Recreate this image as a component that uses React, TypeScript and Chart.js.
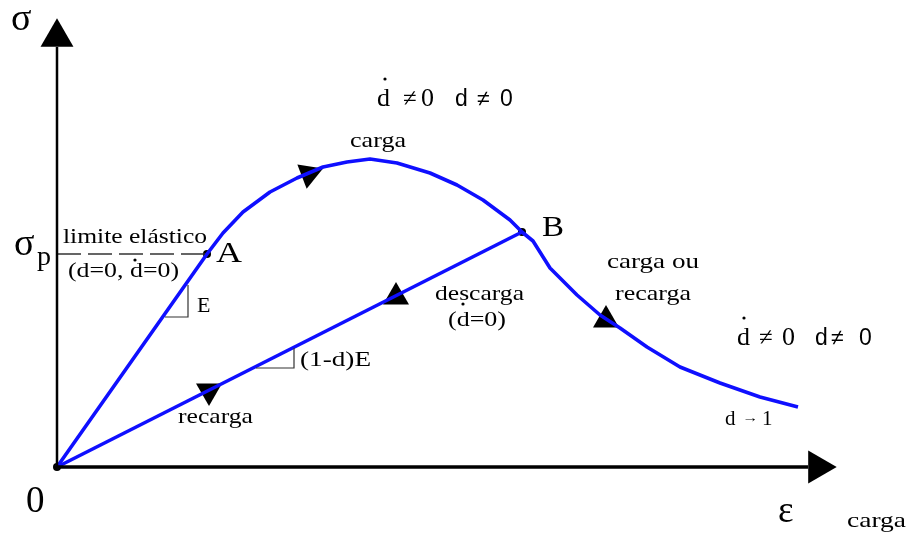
import { useEffect, useRef } from "react";
import { Chart, registerables } from "chart.js";

Chart.register(...registerables);

// Strain ε and stress σ, in plot units (origin at 0,0)
const elasticEps = [0, 1.5];
const elasticSig = [0, 2.13];
const hardeningEps = [1.5, 1.66, 1.86, 2.13, 2.4, 2.66, 2.9, 3.13, 3.4, 3.73, 4.0, 4.26, 4.53, 4.65];
const hardeningSig = [2.13, 2.34, 2.55, 2.75, 2.89, 3.0, 3.05, 3.08, 3.04, 2.94, 2.82, 2.67, 2.47, 2.35];
const softeningEps = [4.65, 4.76, 4.93, 5.2, 5.43, 5.63, 5.9, 6.23, 6.63, 7.03, 7.41];
const softeningSig = [2.35, 2.26, 1.99, 1.72, 1.52, 1.39, 1.2, 1.0, 0.84, 0.7, 0.6];
const unloadEps = [4.65, 0];
const unloadSig = [2.35, 0];

// Named points: 0, A (elastic limit σp), B (start of unloading)
const pointEps = [0, 1.5, 4.65];
const pointSig = [0, 2.13, 2.35];
const sigmaP = 2.13;

// Axis extents and arrow heads
const epsAxisEnd = 7.51;
const sigAxisEnd = 4.2;
const arrowEps = [0, 7.607];
const arrowSig = [4.297, 0];
const arrowRot = [0, 90];

// Direction markers along the paths (carga, descarga, recarga, carga ou recarga)
const markerEps = [2.52, 3.39, 1.52, 5.49];
const markerSig = [2.93, 1.7, 0.76, 1.47];
const markerRot = [69, 0, 180, 0];

// Slope triangles for E and (1-d)E
const slopeEEps = [1.08, 1.31, 1.31];
const slopeESig = [1.5, 1.5, 1.82];
const slopeDEps = [1.99, 2.37, 2.37];
const slopeDSig = [0.99, 0.99, 1.19];

const zip = (xs: number[], ys: number[]) => xs.map((x, i) => ({ x, y: ys[i] }));

const SERIF = '"Liberation Serif", "Times New Roman", serif';
const SANS = '"Liberation Sans", Arial, sans-serif';

type Run = { t: string; x: number; y: number; size: number; w?: number; sans?: boolean };

const runs: Run[] = [
  { t: "σ", x: 11, y: 30, size: 38 },
  { t: "σ", x: 14, y: 255, size: 38 },
  { t: "p", x: 37, y: 265, size: 28 },
  { t: "limite elástico", x: 63, y: 243, size: 22, w: 144 },
  { t: "(d=0, d=0)", x: 68, y: 277, size: 22, w: 111 },
  { t: "A", x: 216, y: 262, size: 30, w: 26 },
  { t: "E", x: 197, y: 312, size: 22 },
  { t: "B", x: 542, y: 236, size: 30, w: 22 },
  { t: "carga", x: 350, y: 147, size: 21, w: 56 },
  { t: "descarga", x: 435, y: 300, size: 21, w: 89 },
  { t: "(d=0)", x: 448, y: 326, size: 21, w: 58 },
  { t: "carga ou", x: 607, y: 268, size: 21, w: 92 },
  { t: "recarga", x: 615, y: 300, size: 21, w: 76 },
  { t: "(1-d)E", x: 300, y: 366, size: 21, w: 71 },
  { t: "recarga", x: 178, y: 423, size: 21, w: 75 },
  { t: "d", x: 725, y: 425, size: 21 },
  { t: "→", x: 742, y: 422, size: 13, w: 16 },
  { t: "1", x: 762, y: 425, size: 21 },
  { t: "0", x: 26, y: 512, size: 37 },
  { t: "ε", x: 778, y: 522, size: 37 },
  { t: "carga", x: 847, y: 527, size: 21, w: 59 },
  // ḋ ≠ 0   d ≠ 0 (upper)
  { t: "d", x: 377, y: 106, size: 26 },
  { t: "≠", x: 403, y: 106, size: 25 },
  { t: "0", x: 421, y: 106, size: 26 },
  { t: "d", x: 455, y: 106, size: 23, sans: true },
  { t: "≠", x: 477, y: 106, size: 23, sans: true },
  { t: "0", x: 500, y: 106, size: 23, sans: true },
  // ḋ ≠ 0   d ≠ 0 (right)
  { t: "d", x: 737, y: 345, size: 26 },
  { t: "≠", x: 759, y: 345, size: 25 },
  { t: "0", x: 782, y: 345, size: 26 },
  { t: "d", x: 815, y: 345, size: 23, sans: true },
  { t: "≠", x: 831, y: 345, size: 23, sans: true },
  { t: "0", x: 859, y: 345, size: 23, sans: true },
];

// Time-derivative dots over ḋ
const dotX = [135, 463, 385, 744];
const dotY = [260, 304, 79, 318];

const textPlugin = {
  id: "diagramText",
  afterDatasetsDraw(chart: Chart) {
    const ctx = chart.ctx;
    ctx.save();
    ctx.fillStyle = "#000";
    ctx.textAlign = "left";
    ctx.textBaseline = "alphabetic";
    for (const r of runs) {
      ctx.font = `${r.size}px ${r.sans ? SANS : SERIF}`;
      const m = ctx.measureText(r.t).width;
      const sx = r.w ? r.w / m : 1;
      ctx.save();
      ctx.translate(r.x, r.y);
      ctx.scale(sx, 1);
      ctx.fillText(r.t, 0, 0);
      ctx.restore();
    }
    for (let i = 0; i < dotX.length; i++) {
      ctx.beginPath();
      ctx.arc(dotX[i], dotY[i], 1.6, 0, Math.PI * 2);
      ctx.fill();
    }
    ctx.restore();
  },
};

export default function App() {
  const ref = useRef<HTMLCanvasElement>(null);

  useEffect(() => {
    if (!ref.current) return;
    const blue = "rgb(15,15,255)";
    const loading = [
      ...zip(elasticEps, elasticSig),
      ...zip(hardeningEps, hardeningSig).slice(1),
      ...zip(softeningEps, softeningSig).slice(1),
    ];
    const line = (data: { x: number; y: number }[], color: string, width: number, extra: any = {}) => ({
      data,
      showLine: true,
      borderColor: color,
      borderWidth: width,
      pointRadius: 0,
      fill: false,
      tension: 0,
      clip: false,
      ...extra,
    });

    const chart = new Chart(ref.current, {
      type: "scatter",
      data: {
        datasets: [
          line([{ x: 0, y: 0 }, { x: 0, y: sigAxisEnd }], "#000", 2.5),
          line([{ x: 0, y: 0 }, { x: epsAxisEnd, y: 0 }], "#000", 3.5),
          line([{ x: 0, y: sigmaP }, { x: pointEps[1], y: sigmaP }], "#333", 1.3, { borderDash: [24, 7] }),
          line(zip(slopeEEps, slopeESig), "#333", 1.2),
          line(zip(slopeDEps, slopeDSig), "#333", 1.2),
          line(zip(unloadEps, unloadSig), blue, 3.6, { borderJoinStyle: "round" }),
          line(loading, blue, 3.6, { borderJoinStyle: "round" }),
          {
            data: zip(arrowEps, arrowSig),
            showLine: false,
            pointStyle: "triangle",
            pointRotation: arrowRot,
            pointRadius: 19,
            pointBorderWidth: 0,
            pointBackgroundColor: "#000",
            clip: false,
          },
          {
            data: zip(markerEps, markerSig),
            showLine: false,
            pointStyle: "triangle",
            pointRotation: markerRot,
            pointRadius: 15,
            pointBorderWidth: 0,
            pointBackgroundColor: "#000",
            clip: false,
          },
          {
            data: zip(pointEps, pointSig),
            showLine: false,
            pointStyle: "circle",
            pointRadius: 4,
            pointBorderWidth: 0,
            pointBackgroundColor: "#000",
            clip: false,
          },
        ],
      },
      options: {
        animation: false,
        responsive: false,
        devicePixelRatio: 1,
        events: [],
        layout: { padding: 0, autoPadding: false },
        plugins: { legend: { display: false }, tooltip: { enabled: false } },
        scales: {
          x: { type: "linear", min: -0.57, max: 8.52, display: false },
          y: { type: "linear", min: -0.72, max: 4.67, display: false },
        },
      },
      plugins: [textPlugin],
    });
    return () => chart.destroy();
  }, []);

  return (
    <div style={{ position: "fixed", left: 0, top: 0, width: 909, height: 539, background: "#fff" }}>
      <canvas ref={ref} width={909} height={539} style={{ display: "block" }} />
    </div>
  );
}
